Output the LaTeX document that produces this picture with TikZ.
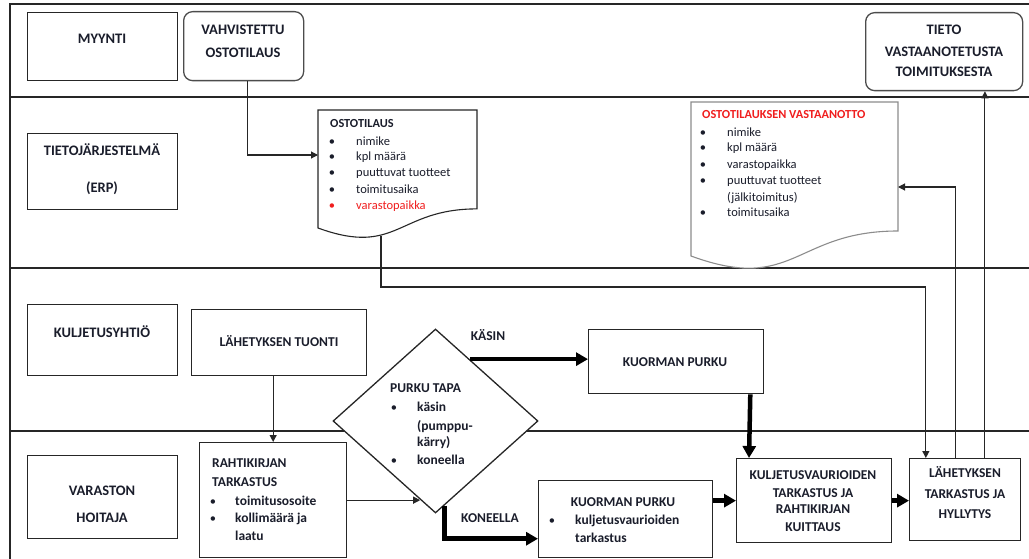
\documentclass[tikz,border=0pt]{standalone}
\usepackage{fontspec}
\setmainfont{Carlito}
\usetikzlibrary{arrows.meta,shapes.geometric,calc}
\definecolor{ink}{HTML}{1A1D2B}
\definecolor{rule}{HTML}{262626}
\definecolor{warn}{HTML}{F01E1E}
\definecolor{docgray}{HTML}{8C8C8C}

\begin{document}
\begin{tikzpicture}[x=1pt,y=-1pt,
  lane/.style={draw=rule, line width=1.4pt},
  box/.style={draw=rule, fill=white, line width=1.3pt, inner sep=0, anchor=north west},
  rbox/.style={box, draw=black!70, rounded corners=9pt},
  lanetitle/.style={font=\bfseries\fontsize{14.5}{17}\selectfont, text=ink, inner sep=0, text height=9.3pt, text depth=0pt},
  bigtxt/.style={font=\bfseries\fontsize{14.5}{17}\selectfont, text=ink, inner sep=0, text height=9.3pt, text depth=0pt},
  lbl/.style={font=\bfseries\fontsize{13.5}{16}\selectfont, text=ink, inner sep=0, text height=8.7pt, text depth=0pt},
  lblw/.style={lbl, anchor=west},
  doctitle/.style={font=\bfseries\fontsize{12.3}{14}\selectfont, text=ink, inner sep=0, text height=7.9pt, text depth=0pt, anchor=west},
  doctxt/.style={font=\fontsize{12.5}{14}\selectfont, text=ink, inner sep=0, text height=8pt, text depth=0pt, anchor=west},
  bul/.style={font=\fontsize{12.5}{14}\selectfont, text=ink, inner sep=0, text height=8pt, text depth=0pt},
  docshape/.style={draw=rule, fill=white, line width=1.1pt},
  conn/.style={draw=rule, line width=1.1pt, -{Triangle[length=7pt,width=7pt]}},
  heavy/.style={draw=black, line width=4.5pt, -{Triangle[length=12pt,width=13pt]}}
]
\useasboundingbox (0,0) rectangle (1029,559);

% swimlane frame
\draw[lane] (1029,4) -- (10,4) -- (10,559);
\draw[lane] (10,97) -- (1029,97);
\draw[lane] (10,268) -- (1029,268);
\draw[lane] (10,431) -- (1029,431);

% lane title boxes
\node[box, minimum width=150, minimum height=68] (myynti) at (27,12) {};
\node[lanetitle] (t-myynti) at (102,39) {MYYNTI};
\node[box, minimum width=150, minimum height=76] (erp) at (27,133) {};
\node[lanetitle] (t-erp1) at (102,151) {TIETOJÄRJESTELMÄ};
\node[lanetitle] (t-erp2) at (102,188) {(ERP)};
\node[box, minimum width=150, minimum height=71] (kulj) at (27,304) {};
\node[lanetitle] (t-kulj) at (102,333) {KULJETUSYHTIÖ};
\node[box, minimum width=150, minimum height=83] (varasto) at (27,455) {};
\node[lanetitle] (t-var1) at (102,491) {VARASTON};
\node[lanetitle] (t-var2) at (102,518) {HOITAJA};

% sales lane
\node[rbox, minimum width=120, minimum height=69] (vahv) at (183,11) {};
\node[bigtxt] (t-vahv1) at (243,30) {VAHVISTETTU};
\node[bigtxt] (t-vahv2) at (243,53) {OSTOTILAUS};
\node[rbox, minimum width=157, minimum height=78] (tieto) at (865,12) {};
\node[bigtxt] (t-tieto1) at (944,30) {TIETO};
\node[bigtxt] (t-tieto2) at (944,52) {VASTAANOTETUSTA};
\node[bigtxt] (t-tieto3) at (944,72) {TOIMITUKSESTA};

% ERP documents
\draw[docshape] (318,110) -- (477,110) -- (477,208.9)
  .. controls (397.5,208.9) and (397.5,257) .. (318,228) -- cycle;
\coordinate (d1in) at (318,155);
\coordinate (d1out) at (381,235.5);
\node[doctitle] (d1t) at (330,124) {OSTOTILAUS};
\foreach \y/\s [count=\i] in {142/nimike,157/kpl määrä,173/puuttuvat tuotteet,190/toimitusaika}{
  \node[bul] (d1b\i) at (332,\y) {\textbullet};
  \node[doctxt] (d1i\i) at (356,\y) {\s};
}
\node[bul, text=warn] (d1b5) at (332,206) {\textbullet};
\node[doctxt, text=warn] (d1i5) at (356,206) {varastopaikka};

\draw[docshape, draw=docgray] (691,102) -- (898,102) -- (898,231)
  .. controls (794.5,231) and (794.5,294) .. (691,256) -- cycle;
\coordinate (d2in) at (898,187);
\node[doctitle, text=warn] (d2t) at (702,115) {OSTOTILAUKSEN VASTAANOTTO};
\foreach \y/\s [count=\i] in {133/nimike,148/kpl määrä,165/varastopaikka,181/puuttuvat tuotteet,213/toimitusaika}{
  \node[bul] (d2b\i) at (703,\y) {\textbullet};
  \node[doctxt] (d2i\i) at (727,\y) {\s};
}
\node[doctxt] (d2i6) at (727,197) {(jälkitoimitus)};

% carrier lane
\node[box, minimum width=175, minimum height=66] (tuonti) at (191,309) {};
\node[lbl] (t-tuonti) at (279,342) {LÄHETYKSEN TUONTI};
\node[draw=rule, fill=white, line width=1.3pt, shape=diamond, minimum width=205,
      minimum height=184, inner sep=0] (dia) at (435.5,421) {};
\node[lblw] (t-dia) at (390,388) {PURKU TAPA};
\foreach \y/\s [count=\i] in {407/käsin,426/(pumppu-,442/kärry),460/koneella}{
  \node[lblw] (t-diai\i) at (417,\y) {\s};
}
\node[bul] (dia-b1) at (394,407) {\textbullet};
\node[bul] (dia-b2) at (394,460) {\textbullet};
\node[box, minimum width=175, minimum height=64] (purku1) at (588,329) {};
\node[lbl] (t-purku1) at (675,362) {KUORMAN PURKU};
\node[lbl] (l-kasin) at (488,336) {KÄSIN};
\node[lbl] (l-kone) at (490,518) {KONEELLA};

% warehouse lane
\node[box, minimum width=147, minimum height=115] (rahti) at (199,442) {};
\node[lblw] (t-rahti1) at (212,463) {RAHTIKIRJAN};
\node[lblw] (t-rahti2) at (212,482) {TARKASTUS};
\node[bul] (r-b1) at (213,501) {\textbullet};
\node[bul] (r-b2) at (213,518) {\textbullet};
\node[lblw] (t-rahti3) at (235,501) {toimitusosoite};
\node[lblw] (t-rahti4) at (235,518) {kollimäärä ja};
\node[lblw] (t-rahti5) at (235,536) {laatu};

\node[box, minimum width=174, minimum height=77] (purku2) at (538,480) {};
\node[lbl] (t-purku2) at (623,502) {KUORMAN PURKU};
\node[bul] (p2-b) at (552,520) {\textbullet};
\node[lblw] (t-purku2a) at (575,520) {kuljetusvaurioiden};
\node[lblw] (t-purku2b) at (575,538) {tarkastus};

\node[box, minimum width=155, minimum height=84] (kvt) at (736,458) {};
\foreach \y/\s [count=\i] in {475/KULJETUSVAURIOIDEN,493/TARKASTUS JA,509/RAHTIKIRJAN,527/KUITTAUS}{
  \node[lbl] (t-kvt\i) at (813,\y) {\s};
}
\node[box, minimum width=111, minimum height=82] (lah) at (909,458) {};
\foreach \y/\s [count=\i] in {473/LÄHETYKSEN,494/TARKASTUS JA,514/HYLLYTYS}{
  \node[lbl] (t-lah\i) at (965,\y) {\s};
}

% thin connectors
\draw[conn] ($(vahv.south)+(4,0)$) |- (d1in);
\coordinate (lahA) at ($(lah.north west)!0.15!(lah.north east)$);
\coordinate (lahB) at ($(lah.north west)!0.414!(lah.north east)$);
\coordinate (lahC) at ($(lah.north west)!0.676!(lah.north east)$);
\draw[conn] (d1out) -- ++(0,51.5) -| (lahA);
\draw[conn] (lahB) |- (d2in);
\draw[conn] (lahC) -- (lahC |- tieto.south);
\draw[conn] (rahti.north |- tuonti.south) -- (rahti.north);
\draw[conn] (rahti.east) -- (rahti.east -| dia.259);

% heavy flow
\draw[heavy] (dia.61) -- (dia.61 -| purku1.west);
\draw[heavy] (dia.-84) |- ($(purku2.south west)!0.25!(purku2.north west)$);
\draw[heavy] ($(purku1.south east)+(-14,0)$) -- ($(kvt.north west)+(13,0)$);
\draw[heavy] (purku2.east |- kvt.west) -- (kvt.west);
\draw[heavy] (kvt.east) -- (kvt.east -| lah.west);
\end{tikzpicture}
\end{document}
